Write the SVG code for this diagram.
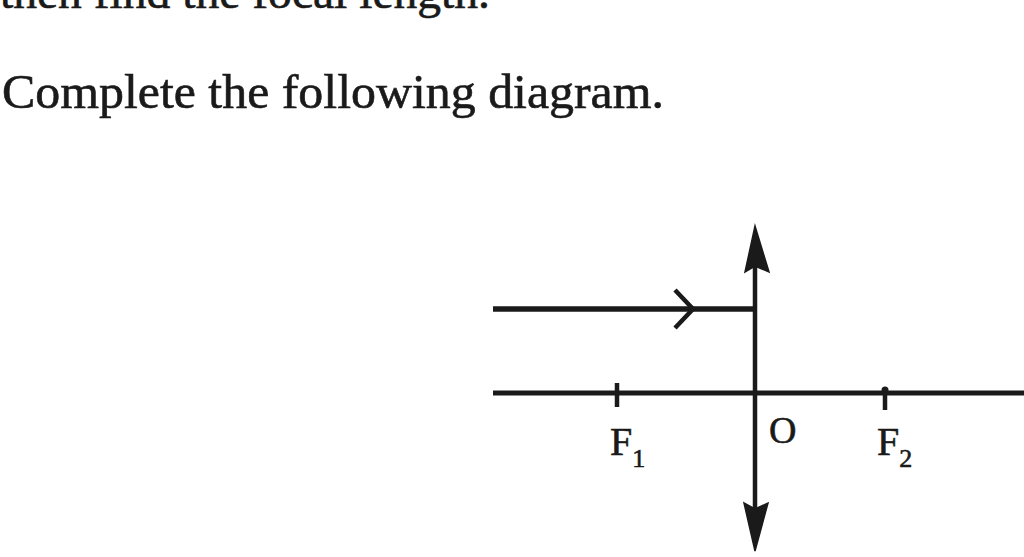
<svg xmlns="http://www.w3.org/2000/svg" width="1024" height="557" viewBox="0 0 1024 557">
<style>
.t{font-family:"Liberation Serif","Times New Roman",serif;fill:#1a1a1a;stroke:#1a1a1a;stroke-width:0.6}
.ln{stroke:#1a1a1a;fill:none;stroke-linecap:butt}
.head{fill:#1a1a1a;stroke:#1a1a1a;stroke-width:1.5;stroke-linejoin:miter}
</style>
<rect width="1024" height="557" fill="#ffffff"/>
<text class="t" x="0" y="8" font-size="46" textLength="490" lengthAdjust="spacingAndGlyphs">then find the focal length.</text>
<text class="t" x="2" y="108" font-size="48" textLength="662" lengthAdjust="spacingAndGlyphs">Complete the following diagram.</text>
<g id="axis">
<line class="ln" x1="493" y1="393" x2="1024" y2="393" stroke-width="5"/>
</g>
<g id="lens">
<line class="ln" x1="755" y1="262" x2="755" y2="515" stroke-width="4.5"/>
<path class="head" d="M755,226 L769,272 L755,266 L745,272 Z"/>
<path class="head" d="M755,551 L768,503 L755,509 L744,503 Z"/>
</g>
<g id="connectors">
<line class="ln" x1="493" y1="309" x2="757" y2="309" stroke-width="5.5"/>
<polyline class="ln" points="675,290 693,309 675,328" stroke-width="4.5" stroke-linejoin="miter"/>
</g>
<g id="F1">
<line class="ln" x1="617" y1="383" x2="617" y2="407" stroke-width="4.5"/>
<text class="t" x="610" y="455" font-size="40">F<tspan font-size="26" dy="12">1</tspan></text>
</g>
<g id="O">
<text class="t" x="769" y="443" font-size="38">O</text>
</g>
<g id="F2">
<line class="ln" x1="885" y1="388" x2="885" y2="410" stroke-width="4.5"/>
<circle cx="885" cy="390" r="3.5" fill="#1a1a1a"/>
<text class="t" x="877" y="455" font-size="40">F<tspan font-size="26" dy="12">2</tspan></text>
</g>
</svg>
